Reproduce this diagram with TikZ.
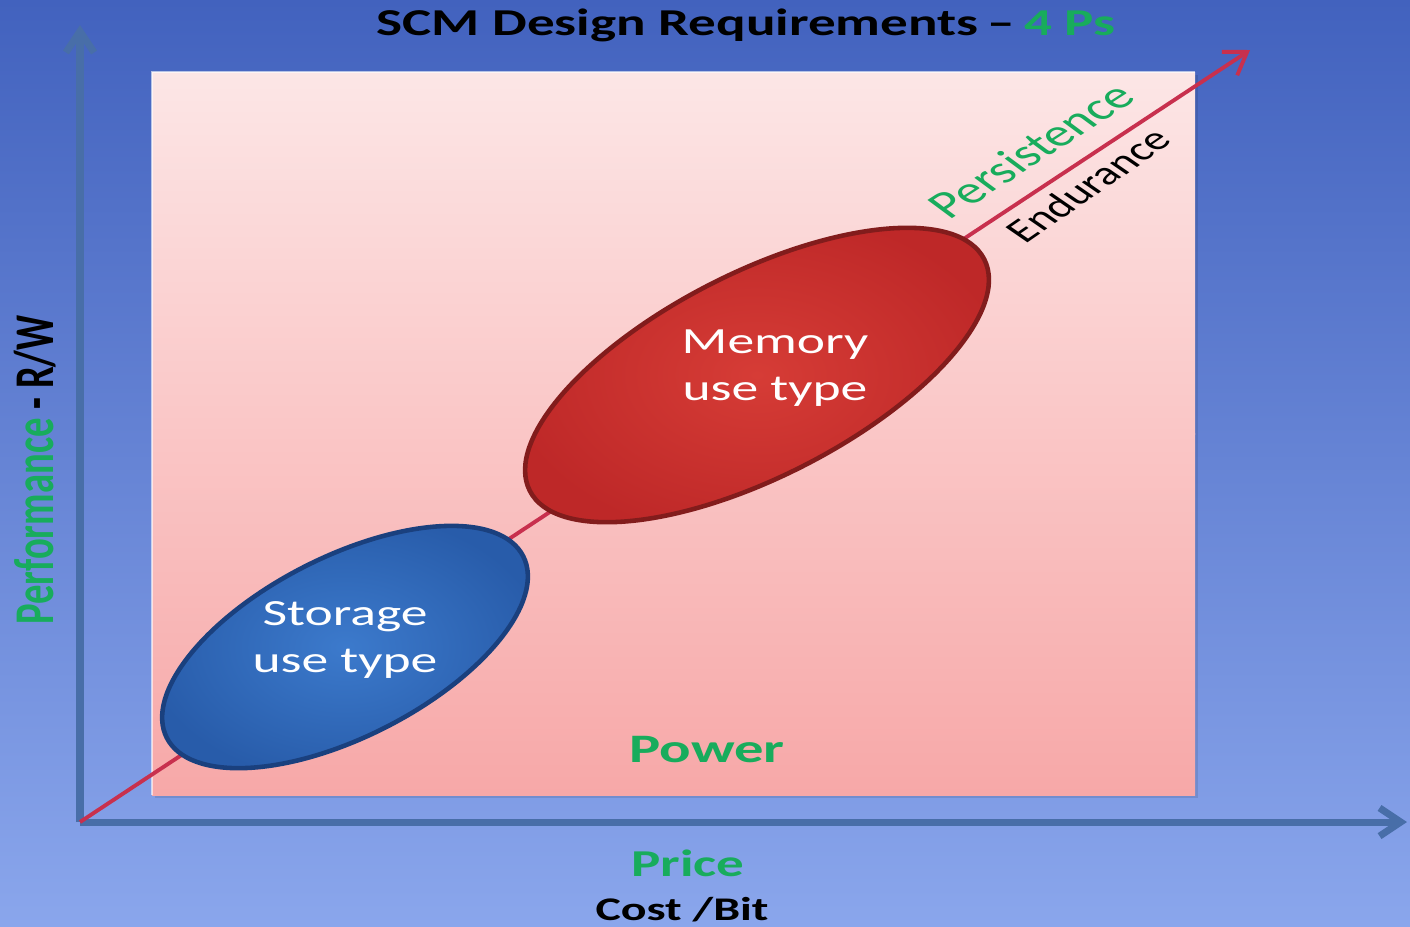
\documentclass[tikz,border=0pt]{standalone}
\usepackage{fontspec}
\setmainfont{Carlito}
\usepackage{xcolor}
\usetikzlibrary{arrows.meta}

\definecolor{pgreen}{RGB}{24,172,92}
\definecolor{axisblue}{RGB}{72,110,168}
\definecolor{diagred}{RGB}{200,48,78}
\definecolor{bgtop}{RGB}{66,98,190}
\definecolor{bgbot}{RGB}{138,166,236}
\definecolor{pinktop}{RGB}{252,230,230}
\definecolor{pinkmid}{RGB}{250,198,198}
\definecolor{pinkbot}{RGB}{247,168,168}
\definecolor{stblue}{RGB}{60,122,204}
\definecolor{stdark}{RGB}{40,92,170}
\definecolor{stedge}{RGB}{26,64,126}
\definecolor{memred}{RGB}{214,60,54}
\definecolor{memdark}{RGB}{190,40,40}
\definecolor{memedge}{RGB}{130,28,28}

\tikzset{
	wide/.style={xscale=1.45},
	lbl/.style={wide, inner sep=0pt, font=\bfseries\fontsize{10.8}{13}\selectfont},
	inlbl/.style={wide, inner sep=0pt, text=white, align=center, font=\fontsize{10.5}{13.4}\selectfont},
	axis/.style={->, draw=axisblue, line width=2pt},
}

\begin{document}
\begin{tikzpicture}[x=0.01cm, y=-0.01cm, >={Straight Barb[length=6pt,width=8pt]}]
	\useasboundingbox (0,0) rectangle (1410,926);
	% backdrop and chart panel
	\shade[top color=bgtop, bottom color=bgbot] (0,0) rectangle (1410,926);
	\fill[black, opacity=0.1] (155,75) rectangle (1198,798);
	\shade[top color=pinktop, bottom color=pinkmid] (152,72) rectangle (1195,434);
	\shade[top color=pinkmid, bottom color=pinkbot] (152,433) rectangle (1195,795);
	\draw[white, opacity=0.6, line width=0.6pt] (152,795) -- (152,72) -- (1195,72);

	\coordinate (O) at (80,822);
	\coordinate (Ytop) at (80,25);
	\coordinate (Xend) at (1407,822);
	\coordinate (Dend) at (1250,50);
	\coordinate (S) at (345,647);
	\coordinate (M) at (757,375);

	% axes
	\draw[axis] (O) -- (Ytop);
	\draw[axis] (O) -- (Xend);
	\draw[->, draw=diagred, line width=1.1pt] (O) -- (Dend);

	% use types
	\shade[rotate around={27:(S)}, inner color=stblue, outer color=stdark] (S) ellipse [x radius=200, y radius=90];
	\draw[rotate around={27:(S)}, draw=stedge, line width=1.3pt] (S) ellipse [x radius=200, y radius=90];
	\shade[rotate around={27:(M)}, inner color=memred, outer color=memdark] (M) ellipse [x radius=255, y radius=102];
	\draw[rotate around={27:(M)}, draw=memedge, line width=1.3pt] (M) ellipse [x radius=255, y radius=102];

	\node[inlbl] (stor) at (345,640) {Storage\\use type};
	\node[inlbl] (mem) at (775,368) {Memory\\use type};

	% labels
	\node[lbl] (title) at (746,25) {SCM Design Requirements\,–\,\textcolor{pgreen}{4 Ps}};
	\node[lbl, rotate=90, text=pgreen, font=\bfseries\fontsize{11}{13}\selectfont] (perf) at (35,470) {Performance \textcolor{black}{- R/W}};
	\node[wide, rotate=43, inner sep=0pt, text=pgreen, font=\fontsize{11}{13}\selectfont] (pers) at (1031,150) {Persistence};
	\node[wide, rotate=45, inner sep=0pt, font=\fontsize{9.5}{12}\selectfont] (endu) at (1088,185) {Endurance};
	\node[lbl, text=pgreen, font=\bfseries\fontsize{11.5}{13}\selectfont] (power) at (707,750) {Power};
	\node[lbl, text=pgreen] (price) at (688,863) {Price};
	\node[lbl, font=\bfseries\fontsize{9.4}{12}\selectfont] (cost) at (682,910) {Cost /Bit};
\end{tikzpicture}
\end{document}
